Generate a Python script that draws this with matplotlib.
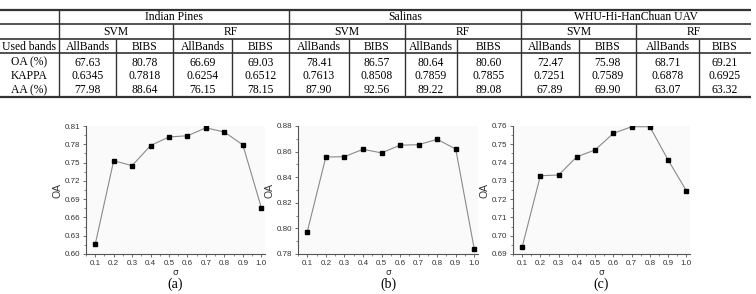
import matplotlib.pyplot as plt
from matplotlib.ticker import MultipleLocator, FormatStrFormatter

# table data
datasets = ['Indian Pines', 'Salinas', 'WHU-Hi-HanChuan UAV']
classifiers = ['SVM', 'RF']
band_sets = ['AllBands', 'BIBS']
row_names = ['OA (%)', 'KAPPA', 'AA (%)']
oa = ['67.63', '80.78', '66.69', '69.03', '78.41', '86.57', '80.64', '80.60',
      '72.47', '75.98', '68.71', '69.21']
kappa = ['0.6345', '0.7818', '0.6254', '0.6512', '0.7613', '0.8508', '0.7859', '0.7855',
         '0.7251', '0.7589', '0.6878', '0.6925']
aa = ['77.98', '88.64', '76.15', '78.15', '87.90', '92.56', '89.22', '89.08',
      '67.89', '69.90', '63.07', '63.32']

# sigma curves
sigma = [0.1, 0.2, 0.3, 0.4, 0.5, 0.6, 0.7, 0.8, 0.9, 1.0]
oa_indian = [0.616, 0.753, 0.745, 0.778, 0.792, 0.794, 0.807, 0.800, 0.779, 0.676]
oa_salinas = [0.7974, 0.8558, 0.8560, 0.8618, 0.8590, 0.8650, 0.8654, 0.8696, 0.8620, 0.7837]
oa_whu = [0.6937, 0.7328, 0.7332, 0.7432, 0.7469, 0.7560, 0.7596, 0.7596, 0.7414, 0.7246]

W, H = 756, 294
fig = plt.figure(figsize=(W / 100, H / 100), dpi=100)

# ---- table drawn in pixel coordinates ----
tab = fig.add_axes([0, 0, 1, 1])
tab.set_xlim(0, W)
tab.set_ylim(H, 0)
tab.axis('off')

col_x = [0, 59, 116, 173, 232, 289, 349, 405, 457, 521, 579, 636, 699, 751]
row_y = [10, 24, 39, 53, 97]
serif = 'Liberation Serif'
fs = 8.4
lc = '#333333'

for i, y in enumerate(row_y):
    lw = 1.6 if i in (0, len(row_y) - 1) else 1.2
    tab.hlines(y, 0, col_x[-1], color=lc, lw=lw)

# vertical lines
for k in range(1, 13):
    x = col_x[k]
    if (k - 1) % 4 == 0:
        y0 = row_y[0]
    elif (k - 1) % 2 == 0:
        y0 = row_y[1]
    else:
        y0 = row_y[2]
    tab.vlines(x, y0, row_y[-1], color=lc, lw=1.0)

for d, name in enumerate(datasets):
    x0, x1 = col_x[1 + 4 * d], col_x[5 + 4 * d]
    tab.text((x0 + x1) / 2, 17.3, name, ha='center', va='center', fontsize=fs, family=serif)
    for c, clf in enumerate(classifiers):
        a, b = col_x[1 + 4 * d + 2 * c], col_x[3 + 4 * d + 2 * c]
        tab.text((a + b) / 2, 32, clf, ha='center', va='center', fontsize=fs, family=serif)

tab.text(col_x[0] / 2 + col_x[1] / 2, 47.3, 'Used bands', ha='center', va='center', fontsize=fs, family=serif)
for k in range(12):
    xc = (col_x[k + 1] + col_x[k + 2]) / 2
    tab.text(xc, 47.3, band_sets[k % 2], ha='center', va='center', fontsize=fs, family=serif)

for r, (rname, vals) in enumerate(zip(row_names, [oa, kappa, aa])):
    y = 62.7 + r * 13.6
    tab.text((col_x[0] + col_x[1]) / 2, y, rname, ha='center', va='center', fontsize=fs, family=serif)
    for k, v in enumerate(vals):
        xc = (col_x[k + 1] + col_x[k + 2]) / 2
        tab.text(xc, y, v, ha='center', va='center', fontsize=fs, family=serif)

# ---- the three sigma plots ----
panels = [
    (86, 265, oa_indian, (0.60, 0.81), 0.03, 0.015, '(a)'),
    (298, 478, oa_salinas, (0.78, 0.88), 0.02, 0.01, '(b)'),
    (513, 690, oa_whu, (0.69, 0.76), 0.01, 0.005, '(c)'),
]
top, bottom = 126, 254
sans = 'Liberation Sans'

for x0, x1, vals, ylim, major, minor, lab in panels:
    ax = fig.add_axes([x0 / W, 1 - bottom / H, (x1 - x0) / W, (bottom - top) / H])
    ax.set_facecolor('#fafafa')
    ax.plot(sigma, vals, color='#8a8a8a', lw=0.8, marker='s', ms=2.6,
            mfc='black', mec='black', zorder=3)
    ax.set_xlim(0.05, 1.02)
    ax.set_ylim(*ylim)
    ax.xaxis.set_major_locator(MultipleLocator(0.1))
    ax.xaxis.set_minor_locator(MultipleLocator(0.05))
    ax.yaxis.set_major_locator(MultipleLocator(major))
    ax.yaxis.set_minor_locator(MultipleLocator(minor))
    ax.xaxis.set_major_formatter(FormatStrFormatter('%.1f'))
    ax.yaxis.set_major_formatter(FormatStrFormatter('%.2f'))
    for s in ('top', 'right'):
        ax.spines[s].set_visible(False)
    for s in ('left', 'bottom'):
        ax.spines[s].set_color('#555555')
        ax.spines[s].set_linewidth(0.8)
    ax.tick_params(which='major', direction='out', length=2.5, width=0.6,
                   labelsize=5.8, colors='#555555', labelcolor='#333333', pad=1.5)
    ax.tick_params(which='minor', direction='out', length=1.5, width=0.5, colors='#555555')
    for t in ax.get_xticklabels() + ax.get_yticklabels():
        t.set_family(sans)
    ax.set_ylabel('OA', fontsize=7.5, family=sans, color='#333333', labelpad=2)
    ax.set_xlabel('σ', fontsize=6.5, family='DejaVu Sans', color='#333333', labelpad=1)
    fig.text((x0 + x1) / 2 / W, 1 - 284 / H, lab, ha='center', va='center',
             fontsize=10, family=serif)

fig.savefig('out.png', dpi=100)
